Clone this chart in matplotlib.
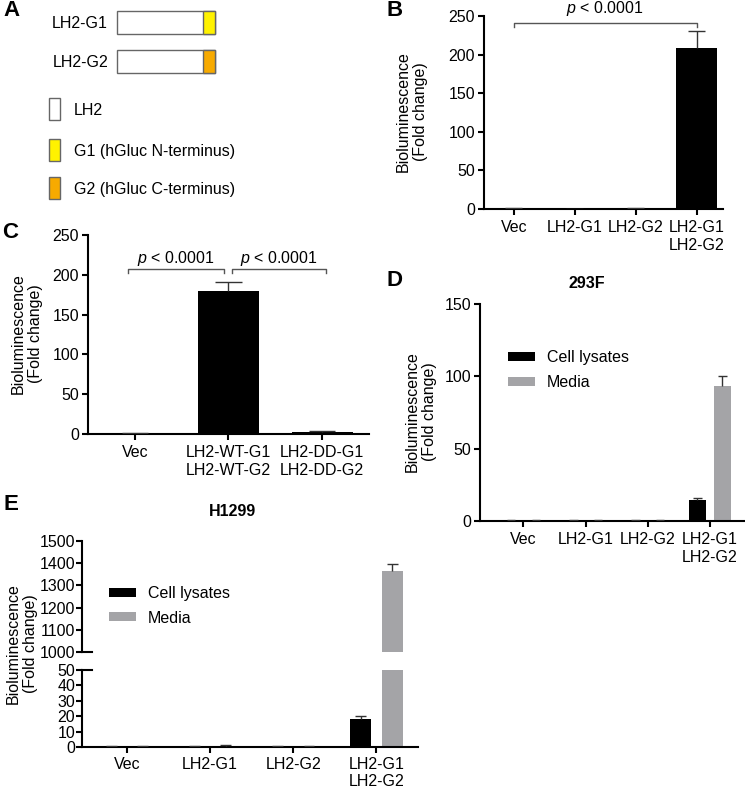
import matplotlib
matplotlib.use('Agg')
import matplotlib.pyplot as plt
from matplotlib.patches import Rectangle
import numpy as np

plt.rcParams['font.family'] = ['Liberation Sans', 'DejaVu Sans']
plt.rcParams['mathtext.fontset'] = 'custom'
plt.rcParams['mathtext.it'] = 'Liberation Sans:italic'
plt.rcParams['mathtext.rm'] = 'Liberation Sans'

FS = 11.5
W, H = 745, 789

# ---------------- data ----------------
a_constructs = ["LH2-G1", "LH2-G2"]
a_tag_colors = ["#FFF200", "#F7AA00"]
a_legend_labels = ["LH2", "G1 (hGluc N-terminus)", "G2 (hGluc C-terminus)"]
a_legend_colors = ["white", "#FFF200", "#F7AA00"]

b_labels = ["Vec", "LH2-G1", "LH2-G2", "LH2-G1\nLH2-G2"]
b_values = [1.0, 0.5, 0.6, 209]
b_errors = [0.2, 0.1, 0.1, 22]

c_labels = ["Vec", "LH2-WT-G1\nLH2-WT-G2", "LH2-DD-G1\nLH2-DD-G2"]
c_values = [1.0, 180, 3.0]
c_errors = [0.1, 11, 0.5]

d_labels = ["Vec", "LH2-G1", "LH2-G2", "LH2-G1\nLH2-G2"]
d_lysate = [0.9, 0.8, 0.8, 14.5]
d_lysate_err = [0.1, 0.1, 0.1, 1.2]
d_media = [0.8, 0.6, 0.6, 93]
d_media_err = [0.1, 0.1, 0.1, 7]

e_labels = ["Vec", "LH2-G1", "LH2-G2", "LH2-G1\nLH2-G2"]
e_lysate = [0.8, 0.6, 0.6, 18]
e_lysate_err = [0.1, 0.1, 0.1, 2.2]
e_media = [0.9, 1.0, 0.7, 1365]
e_media_err = [0.1, 0.2, 0.1, 30]

BLACK = "#000000"
GRAY = "#A4A4A7"
ERRC = "#333333"


def px(x0, y0, x1, y1):
    return [x0 / W, 1 - y1 / H, (x1 - x0) / W, (y1 - y0) / H]


def style(ax, bottom=True, xpad=3.5):
    for s in ['top', 'right']:
        ax.spines[s].set_visible(False)
    for s in ['left', 'bottom']:
        ax.spines[s].set_linewidth(1.5)
    ax.tick_params(axis='both', length=4.5, width=1.5, labelsize=FS, color='black')
    ax.tick_params(axis='y', pad=2)
    ax.tick_params(axis='x', pad=xpad)
    if not bottom:
        ax.spines['bottom'].set_visible(False)
        ax.tick_params(axis='x', bottom=False, labelbottom=False)


def up_err(ax, x, y, e, cw, color=ERRC, lw=1.0):
    x = np.asarray(x, float)
    y = np.asarray(y, float)
    e = np.asarray(e, float)
    ax.vlines(x, y, y + e, color=color, lw=lw, zorder=3)
    ax.hlines(y + e, x - cw, x + cw, color=color, lw=lw, zorder=3)


def bracket(ax, x0, x1, y, h, text, ty):
    ax.plot([x0, x0, x1, x1], [y - h, y, y, y - h], color='#555555', lw=1.0,
            clip_on=False)
    ax.text((x0 + x1) / 2, ty, text, ha='center', va='center', fontsize=FS)


def ylab(x, y):
    fig.text(x / W, 1 - y / H, "Bioluminescence\n(Fold change)", rotation=90,
             ha='center', va='center', fontsize=FS, multialignment='center',
             linespacing=1.15)


def letter(x, y, s):
    fig.text(x / W, 1 - y / H, s, ha='center', va='center', fontsize=16,
             fontweight='bold')


fig = plt.figure(figsize=(W / 100, H / 100), dpi=100)

# ---------------- Panel A ----------------
axA = fig.add_axes([0, 0, 1, 1])
axA.set_xlim(0, W)
axA.set_ylim(H, 0)
axA.axis('off')
row_y = [11, 50]
for name, col, y0 in zip(a_constructs, a_tag_colors, row_y):
    axA.add_patch(Rectangle((117, y0), 98, 23, facecolor='white',
                            edgecolor='#666666', lw=1.0))
    axA.add_patch(Rectangle((203, y0), 12, 23, facecolor=col,
                            edgecolor='#666666', lw=1.0))
    axA.text(108, y0 + 12, name, ha='right', va='center', fontsize=FS)
leg_y = [98, 139, 177]
for lab, col, y0 in zip(a_legend_labels, a_legend_colors, leg_y):
    axA.add_patch(Rectangle((49, y0), 11, 22, facecolor=col,
                            edgecolor='#666666', lw=1.0))
    axA.text(74, y0 + 12, lab, ha='left', va='center', fontsize=FS)

letter(11, 11, "A")
letter(395, 11, "B")
letter(10, 233, "C")
letter(395, 280, "D")
letter(11, 505, "E")

# ---------------- Panel B ----------------
axB = fig.add_axes(px(484, 16, 723, 209))
xb = np.arange(len(b_labels))
axB.bar(xb, b_values, width=0.67, color=BLACK)
up_err(axB, xb, b_values, b_errors, 0.14)
axB.set_xlim(-0.49, 3.43)
axB.set_ylim(0, 250)
axB.set_yticks([0, 50, 100, 150, 200, 250])
axB.set_xticks(xb)
axB.set_xticklabels(b_labels)
style(axB)
bracket(axB, 0, 3, 241, 5, r"$\it{p}$ < 0.0001", 260)
ylab(412, 112)

# ---------------- Panel C ----------------
axC = fig.add_axes(px(88, 235, 369, 434))
xc = np.arange(len(c_labels))
axC.bar(xc, c_values, width=0.65, color=BLACK)
up_err(axC, xc, c_values, c_errors, 0.14)
axC.set_xlim(-0.5, 2.5)
axC.set_ylim(0, 250)
axC.set_yticks([0, 50, 100, 150, 200, 250])
axC.set_xticks(xc)
axC.set_xticklabels(c_labels)
style(axC)
bracket(axC, -0.07, 0.95, 207, 5, r"$\it{p}$ < 0.0001", 221)
bracket(axC, 1.04, 2.04, 207, 5, r"$\it{p}$ < 0.0001", 221)
ylab(27, 334)

# ---------------- Panel D ----------------
axD = fig.add_axes(px(480, 304, 744, 521))
xd = np.arange(len(d_labels))
off, bw = 0.2, 0.27
b1 = axD.bar(xd - off, d_lysate, width=bw, color=BLACK, label="Cell lysates")
b2 = axD.bar(xd + off, d_media, width=bw, color=GRAY, label="Media")
up_err(axD, xd - off, d_lysate, d_lysate_err, 0.07)
up_err(axD, xd + off, d_media, d_media_err, 0.07)
axD.set_xlim(-0.7, 3.55)
axD.set_ylim(0, 150)
axD.set_yticks([0, 50, 100, 150])
axD.set_xticks(xd)
axD.set_xticklabels(d_labels)
style(axD)
axD.legend(handles=[b1, b2], frameon=False, fontsize=FS, loc='upper left',
           bbox_to_anchor=(508 / W, 1 - 350 / H), bbox_transform=fig.transFigure,
           borderaxespad=0, borderpad=0, handlelength=1.7, handleheight=0.5,
           handletextpad=0.75, labelspacing=0.65)
fig.text(587 / W, 1 - 283 / H, "293F", ha='center', va='center', fontsize=FS,
         fontweight='bold')
ylab(421, 412)

# ---------------- Panel E ----------------
axEu = fig.add_axes(px(82, 540.7, 418, 652.3))
axEl = fig.add_axes(px(82, 670, 418, 747.3))
xe = np.arange(len(e_labels))
off, bw = 0.19, 0.25
handles = []
for ax in (axEu, axEl):
    h1 = ax.bar(xe - off, e_lysate, width=bw, color=BLACK, label="Cell lysates")
    h2 = ax.bar(xe + off, e_media, width=bw, color=GRAY, label="Media")
    up_err(ax, xe - off, e_lysate, e_lysate_err, 0.065)
    up_err(ax, xe + off, e_media, e_media_err, 0.065)
    ax.set_xlim(-0.54, 3.5)
    handles = [h1, h2]
axEu.set_ylim(1000, 1500)
axEu.set_yticks(np.arange(1000, 1501, 100))
axEl.set_ylim(0, 50)
axEl.set_yticks(np.arange(0, 51, 10))
axEl.set_xticks(xe)
axEl.set_xticklabels(e_labels)
style(axEu, bottom=False)
style(axEl, xpad=2.5)
axEu.tick_params(axis='y', length=4, pad=1)
axEl.tick_params(axis='y', length=4, pad=1)
# break marks (ticks extending inward)
axEu.plot([0, 0.03], [0, 0], transform=axEu.transAxes, color='black', lw=1.5,
          clip_on=False)
axEl.plot([0, 0.03], [1, 1], transform=axEl.transAxes, color='black', lw=1.5,
          clip_on=False)
axEu.legend(handles=handles, frameon=False, fontsize=FS, loc='upper left',
            bbox_to_anchor=(109 / W, 1 - 586 / H), bbox_transform=fig.transFigure,
            borderaxespad=0, borderpad=0, handlelength=1.7, handleheight=0.5,
            handletextpad=0.75, labelspacing=0.6)
fig.text(232 / W, 1 - 512 / H, "H1299", ha='center', va='center', fontsize=FS,
         fontweight='bold')
ylab(22, 644)

fig.savefig("out.png", dpi=100)
